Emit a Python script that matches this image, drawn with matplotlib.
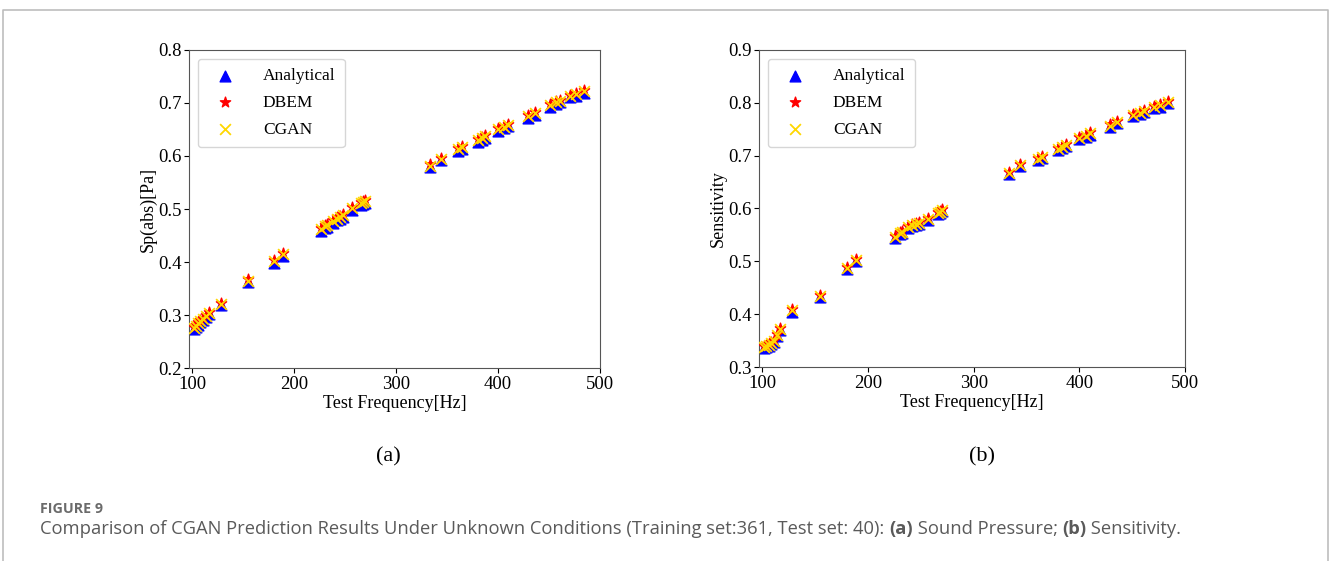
import matplotlib.pyplot as plt

# test frequencies [Hz]
freq = [102, 104, 106, 108, 111, 114, 117, 128, 155, 180, 189, 226, 230, 232,
        238, 242, 245, 248, 257, 266, 268, 270, 333, 344, 361, 365, 380, 384,
        387, 400, 406, 410, 429, 436, 451, 457, 461, 471, 476, 484]

# sound pressure |p| [Pa]
sp_analytical = [0.274, 0.278, 0.282, 0.286, 0.291, 0.296, 0.301, 0.318, 0.362, 0.399,
                 0.412, 0.459, 0.464, 0.466, 0.474, 0.479, 0.482, 0.485, 0.499, 0.508,
                 0.510, 0.512, 0.579, 0.592, 0.610, 0.614, 0.627, 0.631, 0.634, 0.647,
                 0.652, 0.656, 0.672, 0.678, 0.693, 0.698, 0.701, 0.711, 0.714, 0.719]
sp_dbem = [0.278, 0.282, 0.286, 0.290, 0.295, 0.300, 0.305, 0.322, 0.367, 0.404,
           0.417, 0.464, 0.469, 0.471, 0.479, 0.484, 0.487, 0.490, 0.504, 0.513,
           0.515, 0.517, 0.584, 0.597, 0.615, 0.619, 0.632, 0.636, 0.639, 0.652,
           0.657, 0.661, 0.677, 0.683, 0.698, 0.703, 0.706, 0.716, 0.719, 0.724]
sp_cgan = [0.276, 0.280, 0.284, 0.288, 0.293, 0.298, 0.303, 0.320, 0.365, 0.402,
           0.415, 0.462, 0.467, 0.469, 0.477, 0.482, 0.485, 0.488, 0.502, 0.511,
           0.513, 0.515, 0.582, 0.595, 0.613, 0.617, 0.630, 0.634, 0.637, 0.650,
           0.655, 0.659, 0.675, 0.681, 0.696, 0.701, 0.704, 0.714, 0.717, 0.722]

# sensitivity
sen_analytical = [0.336, 0.338, 0.340, 0.343, 0.348, 0.358, 0.370, 0.405, 0.433, 0.486,
                  0.501, 0.544, 0.551, 0.554, 0.563, 0.567, 0.569, 0.571, 0.578, 0.589,
                  0.592, 0.595, 0.666, 0.680, 0.692, 0.696, 0.711, 0.715, 0.719, 0.732,
                  0.736, 0.740, 0.755, 0.761, 0.775, 0.779, 0.782, 0.790, 0.793, 0.799]
sen_dbem = [0.340, 0.342, 0.344, 0.347, 0.352, 0.362, 0.374, 0.409, 0.437, 0.490,
            0.505, 0.548, 0.555, 0.558, 0.567, 0.571, 0.573, 0.575, 0.582, 0.593,
            0.596, 0.599, 0.670, 0.684, 0.696, 0.700, 0.715, 0.719, 0.723, 0.736,
            0.740, 0.744, 0.759, 0.765, 0.779, 0.783, 0.786, 0.794, 0.797, 0.803]
sen_cgan = [0.338, 0.340, 0.342, 0.345, 0.350, 0.360, 0.372, 0.407, 0.435, 0.488,
            0.503, 0.546, 0.553, 0.556, 0.565, 0.569, 0.571, 0.573, 0.580, 0.591,
            0.594, 0.597, 0.668, 0.682, 0.694, 0.698, 0.713, 0.717, 0.721, 0.734,
            0.738, 0.742, 0.757, 0.763, 0.777, 0.781, 0.784, 0.792, 0.795, 0.801]

panels = [
    dict(pos=[0.1420, 0.3440, 0.3088, 0.5669], ylim=(0.2, 0.8), ylabel="Sp(abs)[Pa]",
         series=(sp_analytical, sp_dbem, sp_cgan), tag="(a)", tag_x=0.2915),
    dict(pos=[0.5703, 0.3458, 0.3201, 0.5651], ylim=(0.3, 0.9), ylabel="Sensitivity",
         series=(sen_analytical, sen_dbem, sen_cgan), tag="(b)", tag_x=0.7378),
]

serif = ["Liberation Serif", "DejaVu Serif"]
plt.rcParams["font.family"] = serif

fig = plt.figure(figsize=(13.31, 5.61), dpi=100)

for p in panels:
    ax = fig.add_axes(p["pos"])
    ana, dbem, cgan = p["series"]
    ax.scatter(freq, ana, marker="^", s=60, color="blue", label="Analytical", zorder=2)
    ax.scatter(freq, dbem, marker="*", s=60, color="red", label="DBEM", zorder=3)
    ax.scatter(freq, cgan, marker="x", s=60, color="gold", linewidths=1.3,
               label="CGAN", zorder=4)
    ax.set_xlim(97, 500)
    ax.set_ylim(*p["ylim"])
    ax.set_xticks([100, 200, 300, 400, 500])
    ax.set_yticks([round(p["ylim"][0] + 0.1 * i, 1) for i in range(7)])
    ax.tick_params(labelsize=13.5, length=3.5, pad=2)
    for sp in ax.spines.values():
        sp.set_color("#555555")
    ax.set_xlabel("Test Frequency[Hz]", fontsize=13, labelpad=2)
    ax.set_ylabel(p["ylabel"], fontsize=13, labelpad=1)
    ax.legend(loc="upper left", fontsize=12.5, handletextpad=1.2, borderpad=0.55,
              labelspacing=0.6, scatterpoints=1, borderaxespad=0.5)
    fig.text(p["tag_x"], 0.185, p["tag"], fontsize=16, ha="center", va="center")

# caption and outer frame
over = fig.add_axes([0, 0, 1, 1], zorder=-1)
over.set_xlim(0, 1331)
over.set_ylim(561, 0)
over.axis("off")
over.plot([3, 3, 1328, 1328], [561, 10, 10, 561], color="#bdbdbd", lw=1.2)

cap_font = ["Open Sans", "DejaVu Sans"]
over.text(40, 509, "FIGURE 9", fontsize=10.3, fontweight="bold", color="#6b6b6b",
          family=cap_font, va="center")
pieces = [
    ("Comparison of CGAN Prediction Results Under Unknown Conditions "
     "(Training set:361, Test set: 40): ", "normal"),
    ("(a)", "bold"),
    (" Sound Pressure; ", "normal"),
    ("(b)", "bold"),
    (" Sensitivity.", "normal"),
]
prev = None
for txt, wt in pieces:
    kw = dict(fontsize=13.2, fontweight=wt, color="#5a5a5a", family=cap_font,
              va="bottom", ha="left")
    if prev is None:
        prev = over.text(40, 538, txt, **kw)
    else:
        prev = over.annotate(txt, xy=(1, 0), xycoords=prev,
                             textcoords="offset points", xytext=(0, 0), **kw)

fig.savefig("out.png", dpi=100)
